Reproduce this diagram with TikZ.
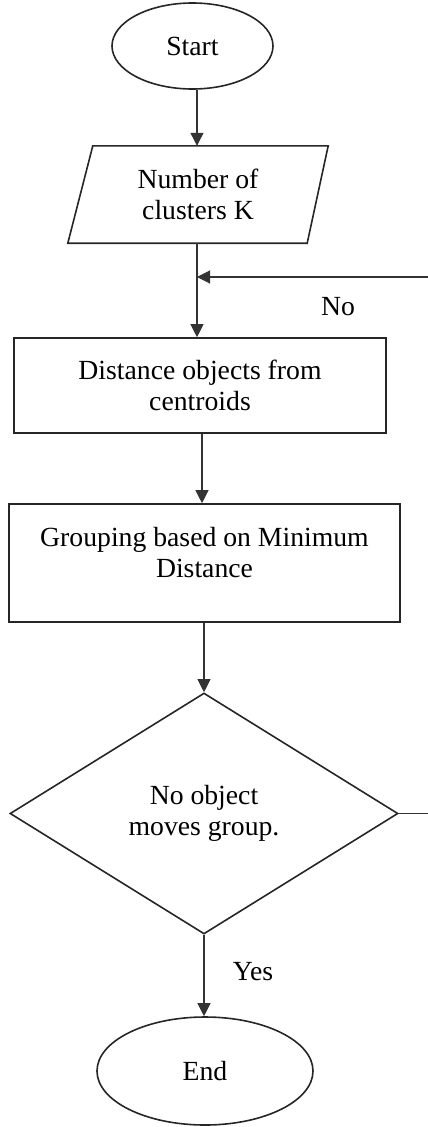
\documentclass[tikz,border=0pt]{standalone}
\usepackage{fontspec}
\setmainfont{Liberation Serif}
\usetikzlibrary{shapes.geometric,arrows.meta}
\tikzset{
  txt/.style={font=\fontsize{27.7}{31}\selectfont, align=center, inner sep=0pt},
  shp/.style={draw=black!85, line width=1.6pt, txt},
  box/.style={shp, rectangle},
  term/.style={shp, ellipse},
  decide/.style={shp, diamond},
  conn/.style={draw=black!80, line width=1.1pt},
  arr/.style={conn, -{Triangle[length=13pt,width=13pt]}}
}
\begin{document}
\begin{tikzpicture}[x=1pt,y=-1pt]
\useasboundingbox (0,0) rectangle (428,1127);
\node[term, minimum width=161pt, minimum height=86pt] (start) at (192.5,46) {Start};
\node[txt, rectangle, minimum width=260pt, minimum height=97pt] (num) at (198,194.5) {Number of\\clusters K};
\draw[shp] (num.south west) -- ([xshift=25pt]num.north west) -- (num.north east) -- ([xshift=-21pt]num.south east) -- cycle;
\node[box, minimum width=372pt, minimum height=95pt] (dist) at (200,385.5) {Distance objects from\\centroids};
\node[box, minimum width=391pt, minimum height=118pt] (group) at (204.5,563) {};
\node[txt] (grouptext) at (204.5,553) {Grouping based on Minimum\\Distance};
\node[decide, minimum width=388pt, minimum height=241pt] (dec) at (204,813.5) {No object\\moves group.};
\node[term, minimum width=216pt, minimum height=108pt] (end) at (205,1071) {End};
\node[txt] (no) at (338,307) {No};
\node[txt] (yes) at (253,972) {Yes};
\coordinate (jn) at (197,277);
\coordinate (rf) at (428,277);
\coordinate (rd) at (428,813.5);
\draw[arr] (start.south -| jn) -- (num.north -| jn);
\draw[conn] (num.south -| jn) -- (jn);
\draw[arr] (jn) -- (dist.north -| jn);
\draw[arr] (rf) -- (jn);
\draw[arr] (dist.south -| 202,0) -- (group.north -| 202,0);
\draw[arr] (group.south -| dec.north) -- (dec.north);
\draw[conn] (dec.east) -- (rd);
\draw[arr] (dec.south) -- (end.north -| dec.south);
\end{tikzpicture}
\end{document}
